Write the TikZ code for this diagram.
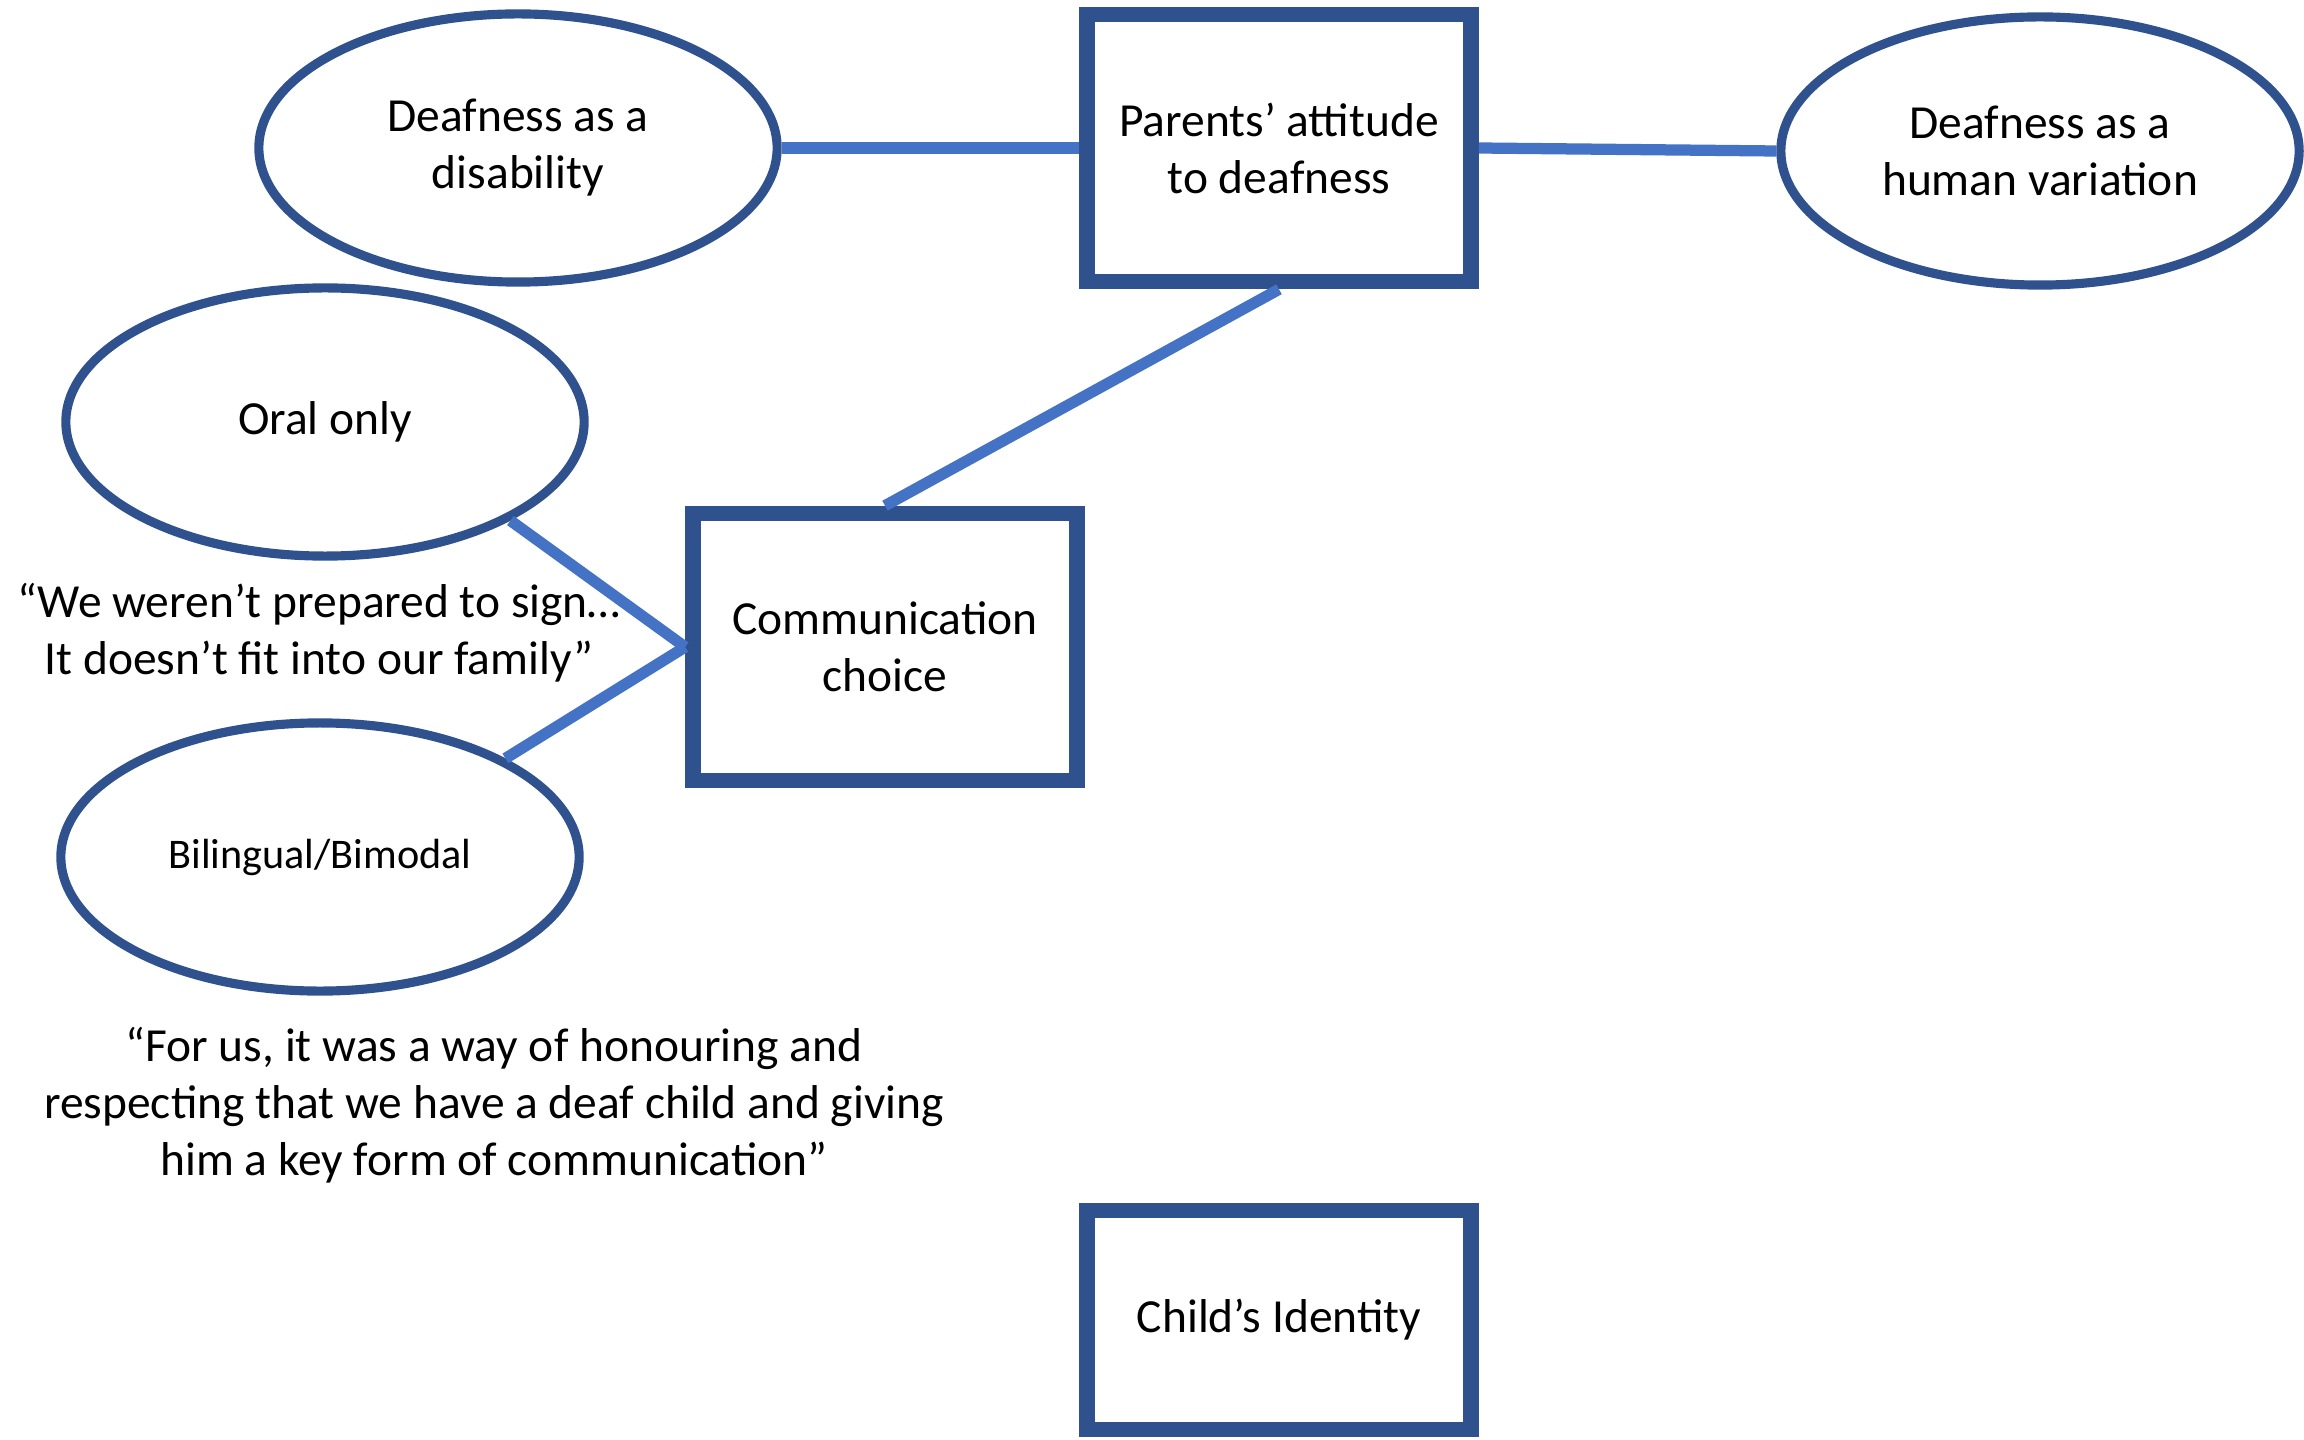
\documentclass[tikz,border=0pt]{standalone}
\usepackage{fontspec}
\setmainfont{Carlito}
\usetikzlibrary{shapes.geometric}
\definecolor{boxblue}{HTML}{2F528F}
\definecolor{linkblue}{HTML}{4472C4}
\begin{document}
\begin{tikzpicture}[x=0.01cm,y=-0.01cm,
  oval/.style={ellipse,draw=boxblue,line width=2.6pt,fill=white,inner sep=0pt,
    minimum width=5.18cm,minimum height=2.68cm,align=center,
    font=\fontsize{13.5}{16.2}\selectfont},
  sqbox/.style={rectangle,draw=boxblue,line width=4.4pt,fill=white,
    minimum width=3.84cm,minimum height=2.67cm,align=center,
    font=\fontsize{13.5}{16.2}\selectfont},
  link/.style={draw=linkblue,line width=3.2pt},
  quote/.style={align=center,inner sep=0pt,font=\fontsize{13.5}{16.2}\selectfont}]
\useasboundingbox (0,0) rectangle (2304,1440);

\node[oval] (dis) at (518,148) {Deafness as a\\disability};
\node[sqbox] (par) at (1279,148) {Parents’ attitude\\to deafness};
\node[oval] (hum) at (2040,151) {Deafness as a\\human variation};
\node[oval] (oral) at (325,422) {Oral only};
\node[sqbox] (com) at (885,647) {Communication\\choice};
\node[oval,font=\fontsize{12}{14.4}\selectfont] (bil) at (320,857) {Bilingual/Bimodal};
\node[sqbox,minimum height=2.19cm] (child) at (1279,1320) {Child’s Identity};

\node[quote] (q1) at (319,633) {“We weren’t prepared to sign…\\It doesn’t fit into our family”};
\node[quote] (q2) at (494,1105) {“For us, it was a way of honouring and\\respecting that we have a deaf child and giving\\him a key form of communication”};

\draw[link] (dis.east) -- (par.west);
\draw[link] (par.east) -- (hum.west);
\draw[link] (par.south) -- (com.north);
\draw[link] (oral.-28) -- (com.west);
\draw[link] (bil.28) -- (com.west);
\end{tikzpicture}
\end{document}
